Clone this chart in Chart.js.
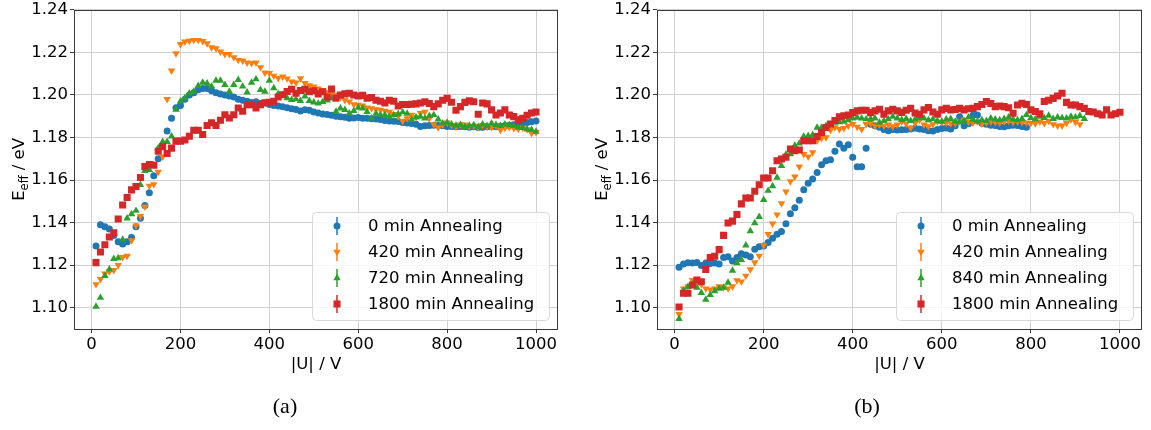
<!DOCTYPE html>
<html>
<head>
<meta charset="utf-8">
<script src="https://cdn.jsdelivr.net/npm/chart.js@4.4.1/dist/chart.umd.min.js"></script>
<style>
  body { margin: 0; background: #fff; width: 1151px; height: 430px; position: relative; overflow: hidden; }
  canvas { position: absolute; top: 0; }
  #cA { left: 0; }
  #cB { left: 583px; }
  .cap { position: absolute; top: 393px; font-family: 'Liberation Serif', 'Times New Roman', serif; font-size: 22px; transform: translateX(-50%); color: #000; }
</style>
</head>
<body>
<canvas id="cA" width="575" height="430"></canvas>
<canvas id="cB" width="568" height="430"></canvas>
<div class="cap" style="left:285px">(a)</div>
<div class="cap" style="left:867px">(b)</div>
<script>
// |U| in V, shared by all series (each series uses as many as it has values)
const voltage = [10, 20, 30, 40, 50, 60, 70, 80, 90, 100,
  110, 120, 130, 140, 150, 160, 170, 180, 190, 200,
  210, 220, 230, 240, 250, 260, 270, 280, 290, 300,
  310, 320, 330, 340, 350, 360, 370, 380, 390, 400,
  410, 420, 430, 440, 450, 460, 470, 480, 490, 500,
  510, 520, 530, 540, 550, 560, 570, 580, 590, 600,
  610, 620, 630, 640, 650, 660, 670, 680, 690, 700,
  710, 720, 730, 740, 750, 760, 770, 780, 790, 800,
  810, 820, 830, 840, 850, 860, 870, 880, 890, 900,
  910, 920, 930, 940, 950, 960, 970, 980, 990, 1000];

const xTicks = [0, 200, 400, 600, 800, 1000];
const yTicks = [1.10, 1.12, 1.14, 1.16, 1.18, 1.20, 1.22, 1.24];

// ---- panel (a) ----
const a0 = [1.129, 1.139, 1.138, 1.137, 1.134, 1.131, 1.130, 1.131, 1.133, 1.138,
  1.142, 1.148, 1.154, 1.162, 1.170, 1.176, 1.183, 1.189, 1.194, 1.195,
  1.198, 1.200, 1.201, 1.2025, 1.203, 1.203, 1.202, 1.201, 1.2005, 1.200,
  1.1995, 1.199, 1.198, 1.1975, 1.197, 1.1965, 1.1968, 1.196, 1.1962, 1.1955,
  1.195, 1.1948, 1.1945, 1.194, 1.1935, 1.1932, 1.1925, 1.193, 1.1928, 1.192,
  1.1915, 1.191, 1.1908, 1.1905, 1.190, 1.1898, 1.1895, 1.189, 1.1892, 1.1894,
  1.189, 1.189, 1.1888, 1.1887, 1.1885, 1.188, 1.1878, 1.1876, 1.1875, 1.187,
  1.1868, 1.1866, 1.1862, 1.1852, 1.1855, 1.1856, 1.1857, 1.1858, 1.1855, 1.1852,
  1.1852, 1.185, 1.1852, 1.185, 1.1848, 1.185, 1.1847, 1.1848, 1.185, 1.1852,
  1.185, 1.1853, 1.1855, 1.1858, 1.186, 1.1863, 1.1866, 1.187, 1.1874, 1.1878];
const a420 = [1.111, 1.1134, 1.116, 1.117, 1.1176, 1.120, 1.1238, 1.1243, 1.1316, 1.1386,
  1.143, 1.1475, 1.1573, 1.158, 1.1638, 1.171, 1.198, 1.2114, 1.2195, 1.2239,
  1.225, 1.2254, 1.2258, 1.2258, 1.2253, 1.2242, 1.2223, 1.2219, 1.2203, 1.2192,
  1.2192, 1.2177, 1.2164, 1.2161, 1.2152, 1.2149, 1.2152, 1.213, 1.2105, 1.2102,
  1.209, 1.2079, 1.2086, 1.2077, 1.2063, 1.2058, 1.2078, 1.2055, 1.2045, 1.2039,
  1.203, 1.2023, 1.2012, 1.2008, 1.200, 1.199, 1.1975, 1.1969, 1.1955, 1.1953,
  1.195, 1.194, 1.1937, 1.1932, 1.193, 1.1925, 1.192, 1.191, 1.190, 1.1878,
  1.189, 1.1906, 1.1895, 1.1915, 1.192, 1.189, 1.1862, 1.1847, 1.186, 1.187,
  1.1858, 1.1852, 1.186, 1.186, 1.1852, 1.1855, 1.185, 1.1858, 1.1852, 1.1848,
  1.1855, 1.1836, 1.1845, 1.1848, 1.1844, 1.184, 1.1845, 1.1838, 1.182, 1.1825];
const a720 = [1.1005, 1.1047, 1.115, 1.118, 1.123, 1.1233, 1.132, 1.142, 1.144, 1.1456,
  1.1578, 1.1643, 1.1648, 1.167, 1.175, 1.178, 1.178, 1.1806, 1.1931, 1.197,
  1.1985, 1.2008, 1.2016, 1.2043, 1.2058, 1.2055, 1.204, 1.2068, 1.2068, 1.2048,
  1.2016, 1.2048, 1.2071, 1.204, 1.2012, 1.2058, 1.2074, 1.2024, 1.2016, 1.2068,
  1.2032, 1.2005, 1.200, 1.1985, 1.1977, 1.198, 1.1972, 1.1993, 1.1972, 1.1965,
  1.196, 1.1968, 1.1975, 1.1984, 1.1922, 1.1937, 1.193, 1.1914, 1.1925, 1.194,
  1.1937, 1.192, 1.189, 1.1912, 1.1906, 1.1906, 1.1898, 1.1906, 1.191, 1.1919,
  1.1912, 1.1883, 1.1895, 1.1898, 1.189, 1.1902, 1.1906, 1.1885, 1.1867, 1.187,
  1.1862, 1.1856, 1.186, 1.185, 1.1855, 1.1858, 1.185, 1.1862, 1.1855, 1.1867,
  1.186, 1.1855, 1.1862, 1.1858, 1.1855, 1.1847, 1.1845, 1.1838, 1.1836, 1.1828];
const a1800 = [1.1212, 1.1262, 1.1296, 1.1332, 1.1352, 1.1417, 1.1483, 1.1518, 1.1554, 1.157,
  1.1612, 1.1663, 1.1673, 1.167, 1.1735, 1.1757, 1.1725, 1.175, 1.1783, 1.1783,
  1.1788, 1.1806, 1.1834, 1.1834, 1.1814, 1.1856, 1.1869, 1.1856, 1.1881, 1.1907,
  1.1892, 1.1907, 1.1939, 1.1923, 1.1954, 1.1954, 1.1939, 1.1954, 1.1963, 1.1965,
  1.197, 1.199, 1.2001, 1.2016, 1.2027, 1.2008, 1.2021, 1.2027, 1.2015, 1.202,
  1.2005, 1.2015, 1.199, 1.2028, 1.1985, 1.200, 1.2005, 1.2008, 1.200, 1.1995,
  1.1998, 1.1985, 1.1988, 1.1975, 1.197, 1.1962, 1.1975, 1.197, 1.1948, 1.1955,
  1.1955, 1.1956, 1.1958, 1.1962, 1.1968, 1.196, 1.1945, 1.1958, 1.1975, 1.1984,
  1.1966, 1.1928, 1.1945, 1.1965, 1.1972, 1.1968, 1.1909, 1.1962, 1.1958, 1.193,
  1.1906, 1.1915, 1.193, 1.1906, 1.1898, 1.1883, 1.189, 1.1905, 1.1915, 1.192];

// ---- panel (b) ----
const b0 = [1.119, 1.1205, 1.1211, 1.121, 1.1212, 1.1199, 1.121, 1.1208, 1.121, 1.1205,
  1.1236, 1.124, 1.122, 1.1236, 1.1254, 1.1248, 1.1239, 1.1275, 1.1286, 1.129,
  1.1306, 1.1326, 1.1345, 1.1358, 1.1395, 1.1442, 1.147, 1.1505, 1.1555, 1.1585,
  1.1605, 1.1635, 1.1672, 1.1691, 1.1696, 1.1735, 1.1769, 1.1749, 1.1766, 1.1707,
  1.1663, 1.1663, 1.175, 1.1862, 1.1855, 1.1848, 1.1838, 1.1832, 1.1838, 1.1835,
  1.1836, 1.1838, 1.184, 1.1843, 1.184, 1.1838, 1.1832, 1.183, 1.1838, 1.1842,
  1.1845, 1.184, 1.1855, 1.1898, 1.1855, 1.1865, 1.1905, 1.1906, 1.1867, 1.1862,
  1.1858, 1.1856, 1.1852, 1.185, 1.1855, 1.1858, 1.1856, 1.1852, 1.1848];
const b420 = [1.097, 1.109, 1.110, 1.113, 1.1125, 1.111, 1.109, 1.1085, 1.109, 1.110,
  1.1095, 1.109, 1.110, 1.1128, 1.1123, 1.115, 1.118, 1.1213, 1.1243, 1.1293,
  1.1346, 1.1395, 1.1438, 1.149, 1.1545, 1.1594, 1.1616, 1.1663, 1.1722, 1.171,
  1.173, 1.1785, 1.1797, 1.180, 1.1835, 1.1847, 1.1839, 1.1844, 1.1855, 1.1863,
  1.185, 1.1839, 1.1863, 1.1866, 1.1855, 1.186, 1.1855, 1.186, 1.1852, 1.186,
  1.1875, 1.1865, 1.1845, 1.1868, 1.1883, 1.186, 1.1852, 1.1862, 1.1875, 1.1872,
  1.1868, 1.1866, 1.1867, 1.1876, 1.1883, 1.1872, 1.187, 1.1875, 1.1865, 1.187,
  1.1874, 1.1872, 1.187, 1.1875, 1.1878, 1.1872, 1.1874, 1.1872, 1.187, 1.1868,
  1.1866, 1.1874, 1.1867, 1.1878, 1.1862, 1.1856, 1.1856, 1.1868, 1.1885, 1.1872,
  1.1862];
const b840 = [1.0948, 1.108, 1.1098, 1.111, 1.1095, 1.107, 1.1038, 1.106, 1.1078, 1.109,
  1.1095, 1.1118, 1.1175, 1.121, 1.1225, 1.1293, 1.136, 1.1398, 1.1427, 1.1507,
  1.155, 1.1572, 1.1612, 1.1667, 1.172, 1.1722, 1.1762, 1.1772, 1.1805, 1.1808,
  1.1813, 1.1847, 1.1847, 1.1855, 1.186, 1.187, 1.1872, 1.1875, 1.1882, 1.189,
  1.1894, 1.189, 1.1886, 1.1888, 1.189, 1.187, 1.1878, 1.1886, 1.1898, 1.189,
  1.1883, 1.1888, 1.1878, 1.1885, 1.1892, 1.189, 1.1882, 1.1886, 1.1878, 1.1875,
  1.1885, 1.1888, 1.1875, 1.1872, 1.1878, 1.1895, 1.1883, 1.1875, 1.1882, 1.1878,
  1.189, 1.1885, 1.1882, 1.1888, 1.1895, 1.1885, 1.1882, 1.1888, 1.1906, 1.1892,
  1.1885, 1.1898, 1.1892, 1.1903, 1.1888, 1.1895, 1.1892, 1.189, 1.1898, 1.1895,
  1.1902, 1.1888];
const b1800 = [1.1003, 1.1068, 1.1068, 1.1107, 1.113, 1.1122, 1.118, 1.1236, 1.1242, 1.1273,
  1.134, 1.1398, 1.1407, 1.1438, 1.1488, 1.1516, 1.1516, 1.1547, 1.1578, 1.161,
  1.161, 1.1644, 1.1691, 1.1699, 1.1707, 1.1746, 1.1738, 1.1741, 1.1785, 1.1785,
  1.1785, 1.1805, 1.1824, 1.1847, 1.1863, 1.188, 1.1897, 1.1902, 1.1906, 1.1917,
  1.1925, 1.1928, 1.1928, 1.1917, 1.1925, 1.1933, 1.191, 1.1925, 1.1933, 1.1925,
  1.1918, 1.1928, 1.1937, 1.1915, 1.1909, 1.193, 1.1941, 1.192, 1.1909, 1.193,
  1.1937, 1.193, 1.1932, 1.1937, 1.193, 1.1935, 1.1937, 1.1945, 1.1955, 1.1969,
  1.196, 1.1945, 1.1948, 1.1945, 1.194, 1.1914, 1.1953, 1.1961, 1.1955, 1.193,
  1.1922, 1.1912, 1.1969, 1.1975, 1.1984, 1.1995, 1.2008, 1.1965, 1.1953, 1.1953,
  1.1945, 1.1937, 1.1922, 1.192, 1.1912, 1.1906, 1.193, 1.1906, 1.1912, 1.1919];

const FONT = "'DejaVu Sans', sans-serif";
const BLUE = '#1f77b4', ORANGE = '#ff7f0e', GREEN = '#2ca02c', RED = '#d62728';

function series(label, values, color, style, r, rot) {
  return { label, values, color, style, r, rot };
}

/* ================= PLUGIN ================= */
// frame, y title with subscript, and matplotlib-like legend with errorbar handles
const decor = {
  id: 'decor',
  afterDraw(chart) {
    const { ctx, chartArea: a } = chart;
    ctx.save();
    ctx.strokeStyle = '#3a3a3a';
    ctx.lineWidth = 1;
    ctx.strokeRect(Math.round(a.left) + 0.5, Math.round(a.top) + 0.5,
      Math.round(a.right - a.left) - 1, Math.round(a.bottom - a.top));

    // y axis title: E_eff / eV
    ctx.save();
    ctx.translate(a.left - 50, (a.top + a.bottom) / 2);
    ctx.rotate(-Math.PI / 2);
    ctx.fillStyle = '#000';
    ctx.textBaseline = 'alphabetic';
    const big = '16.5px ' + FONT, small = '11.5px ' + FONT;
    ctx.font = big; const wE = ctx.measureText('E').width; const wR = ctx.measureText(' / eV').width;
    ctx.font = small; const wS = ctx.measureText('eff').width;
    let x = -(wE + wS + wR) / 2;
    ctx.font = big; ctx.fillText('E', x, 0); x += wE;
    ctx.font = small; ctx.fillText('eff', x, 3.5); x += wS;
    ctx.font = big; ctx.fillText(' / eV', x, 0);
    ctx.restore();

    // legend
    const w = 237, h = 108;
    const x0 = a.right - 9 - w, y0 = a.bottom - 9 - h;
    ctx.beginPath();
    ctx.roundRect(x0 + 0.5, y0 + 0.5, w, h, 4);
    ctx.fillStyle = 'rgba(255,255,255,0.8)';
    ctx.fill();
    ctx.strokeStyle = '#d8d8d8';
    ctx.stroke();
    chart.data.datasets.forEach((ds, i) => {
      const y = y0 + 14 + i * 26;
      const mx = x0 + 25;
      ctx.strokeStyle = ds.borderColor;
      ctx.lineWidth = 1.5;
      ctx.beginPath(); ctx.moveTo(mx, y - 9); ctx.lineTo(mx, y + 9); ctx.stroke();
      ctx.fillStyle = ds.backgroundColor;
      Chart.helpers.drawPoint(ctx, { pointStyle: ds.pointStyle, radius: ds.pointRadius,
        rotation: ds.pointRotation, borderWidth: 0 }, mx, y);
      ctx.fillStyle = '#000';
      ctx.font = '16.5px ' + FONT;
      ctx.textBaseline = 'middle';
      ctx.fillText(ds.label, x0 + 56, y + 1);
    });
    ctx.restore();
  }
};

/* ================= CHART ================= */
function makeChart(id, list, padRight) {
  const tickFont = { family: FONT, size: 16.5 };
  const grid = { color: '#d0d0d0', lineWidth: 1, tickLength: 4, tickColor: '#3a3a3a' };
  return new Chart(document.getElementById(id), {
    type: 'scatter',
    data: {
      datasets: list.map((s, i) => ({
        label: s.label,
        data: s.values.map((v, k) => ({ x: voltage[k], y: v })),
        pointStyle: s.style,
        pointRadius: s.r,
        pointHoverRadius: s.r,
        pointRotation: s.rot,
        backgroundColor: s.color,
        borderColor: s.color,
        borderWidth: 0,
        order: list.length - i
      }))
    },
    options: {
      responsive: false,
      animation: false,
      devicePixelRatio: 1,
      layout: { padding: { top: 8, right: padRight, bottom: 55, left: 0 } },
      plugins: { legend: { display: false }, tooltip: { enabled: false } },
      scales: {
        x: {
          type: 'linear', min: -39.5, max: 1049.5,
          afterBuildTicks: sc => { sc.ticks = xTicks.map(v => ({ value: v })); },
          afterFit: sc => { sc.height = 46; },
          ticks: { font: tickFont, color: '#000', padding: 2, maxRotation: 0, callback: v => String(v) },
          grid: grid,
          border: { display: false },
          title: { display: true, text: '|U| / V', color: '#000', font: tickFont, padding: { top: 2, bottom: 0 } }
        },
        y: {
          type: 'linear', min: 1.09, max: 1.24,
          afterBuildTicks: sc => { sc.ticks = yTicks.map(v => ({ value: v })); },
          afterFit: sc => { sc.width = 74; },
          ticks: { font: { family: FONT, size: 16.5, lineHeight: 0.95 }, color: '#000', padding: 2, callback: v => v.toFixed(2) },
          grid: grid,
          border: { display: false }
        }
      }
    },
    plugins: [decor]
  });
}

makeChart('cA', [
  series('0 min Annealing', a0, BLUE, 'circle', 3.5, 0),
  series('420 min Annealing', a420, ORANGE, 'triangle', 4.3, 180),
  series('720 min Annealing', a720, GREEN, 'triangle', 4.3, 0),
  series('1800 min Annealing', a1800, RED, 'rect', 5, 0)
], 17);

makeChart('cB', [
  series('0 min Annealing', b0, BLUE, 'circle', 3.5, 0),
  series('420 min Annealing', b420, ORANGE, 'triangle', 4.3, 180),
  series('840 min Annealing', b840, GREEN, 'triangle', 4.3, 0),
  series('1800 min Annealing', b1800, RED, 'rect', 5, 0)
], 9);
</script>
</body>
</html>
